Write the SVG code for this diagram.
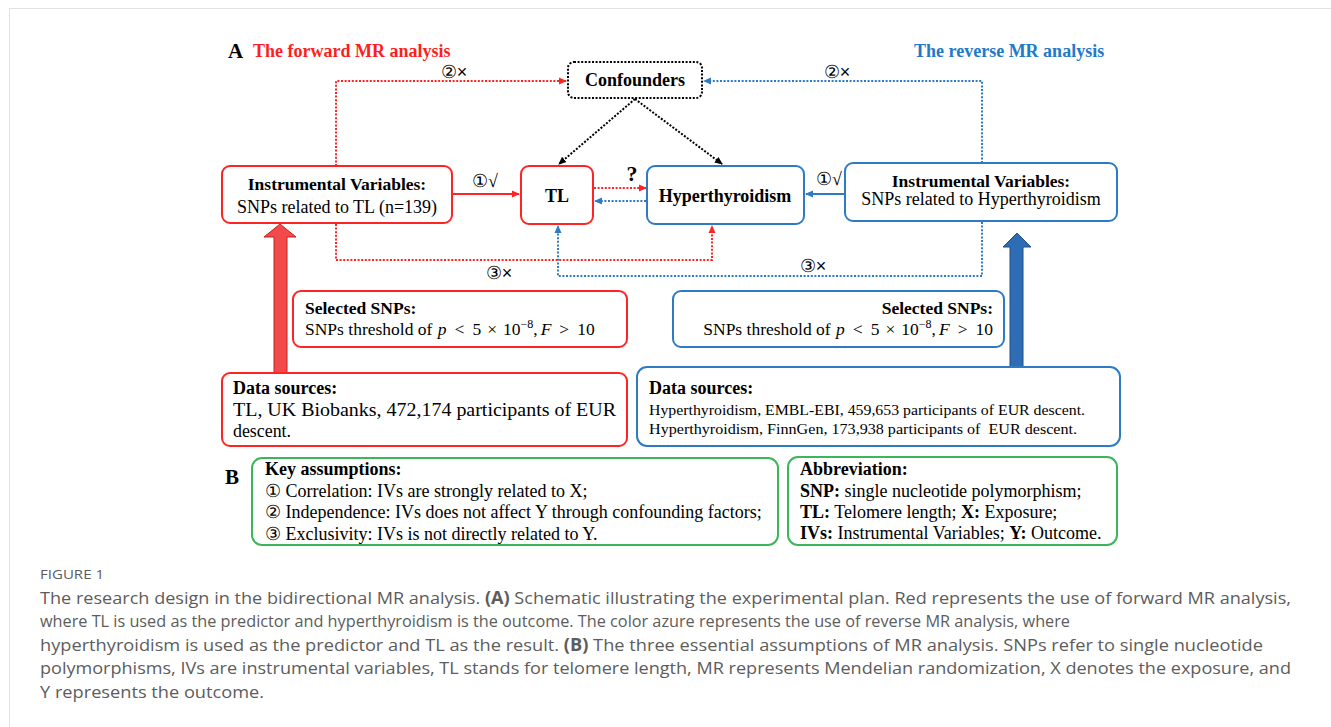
<svg xmlns="http://www.w3.org/2000/svg" width="1331" height="727" viewBox="0 0 1331 727">
<style>
.s{font-family:"Liberation Serif","Times New Roman",serif;fill:#000}
.b{font-weight:bold}
.ss{font-family:"Liberation Sans",Arial,sans-serif;fill:#000}
.rbox{fill:#fff;stroke:#FF2424;stroke-width:2}
.bbox{fill:#fff;stroke:#2E7BC4;stroke-width:2}
.gbox{fill:#fff;stroke:#3DB55C;stroke-width:2}
.rd{fill:none;stroke:#FF2424;stroke-width:2;stroke-dasharray:2 1.6}
.bd{fill:none;stroke:#2E7BC4;stroke-width:2;stroke-dasharray:2 1.6}
.kd{fill:none;stroke:#000;stroke-width:2;stroke-dasharray:2 1.6}
.rs{fill:none;stroke:#FF2424;stroke-width:2}
.bs{fill:none;stroke:#2E7BC4;stroke-width:2}
.cap{font-family:"Open Sans","Liberation Sans",sans-serif;fill:#5c5c5c;font-size:17px}
.i{font-style:italic}
</style>
<defs>
<marker id="ar" markerUnits="userSpaceOnUse" markerWidth="8" markerHeight="8" refX="7" refY="4" orient="auto"><path d="M0,0.5 L8,4 L0,7.5 z" fill="#FF2424"/></marker>
<marker id="ab" markerUnits="userSpaceOnUse" markerWidth="8" markerHeight="8" refX="7" refY="4" orient="auto"><path d="M0,0.5 L8,4 L0,7.5 z" fill="#2E7BC4"/></marker>
<marker id="ak" markerUnits="userSpaceOnUse" markerWidth="8" markerHeight="8" refX="7" refY="4" orient="auto"><path d="M0,0.5 L8,4 L0,7.5 z" fill="#000"/></marker>
</defs>
<rect x="0" y="0" width="1331" height="727" fill="#fff"/>
<rect x="9.5" y="8.5" width="1340" height="740" fill="none" stroke="#e2e2e2"/>

<g id="titles">
<text class="s b" x="228" y="58" font-size="21">A</text>
<text class="s b" x="253" y="57" font-size="18" style="fill:#FF1E1E">The forward MR analysis</text>
<text class="s b" x="914" y="57" font-size="18" style="fill:#2179C9">The reverse MR analysis</text>
</g>

<g id="connectors">
<path class="rd" d="M336,166 V81 H566" marker-end="url(#ar)"/>
<path class="bd" d="M982,163 V81 H704" marker-end="url(#ab)"/>
<path class="kd" d="M635,99 L559,164" marker-end="url(#ak)"/>
<path class="kd" d="M635,99 L722,164" marker-end="url(#ak)"/>
<path class="rs" d="M453,194 H519" marker-end="url(#ar)"/>
<path class="rd" d="M594,188 H646" marker-end="url(#ar)"/>
<path class="bd" d="M646,201 H595" marker-end="url(#ab)"/>
<path class="bs" d="M844,194 H806" marker-end="url(#ab)"/>
<path class="rd" d="M336,224 V260 H712 V226" marker-end="url(#ar)"/>
<path class="bd" d="M982,222 V276 H558 V226" marker-end="url(#ab)"/>
<polygon points="274,373 274,237 264,237 280,224 296,237 287,237 287,373" fill="#F24A4A" stroke="#C81E1E" stroke-width="1"/>
<polygon points="1010,367 1010,247 1003,247 1017,233 1031,247 1023,247 1023,367" fill="#2E6DB4" stroke="#1F4E89" stroke-width="1"/>
<text class="ss" x="454" y="78" font-size="18" text-anchor="middle">②×</text>
<text class="ss" x="837" y="78" font-size="18" text-anchor="middle">②×</text>
<text class="s" x="485" y="187" font-size="18" text-anchor="middle">①√</text>
<text class="s" x="829" y="185" font-size="18" text-anchor="middle">①√</text>
<text class="s b" x="632" y="181" font-size="22" text-anchor="middle">?</text>
<text class="ss" x="499" y="279" font-size="18" text-anchor="middle">③×</text>
<text class="ss" x="813" y="272" font-size="18" text-anchor="middle">③×</text>
</g>

<g id="confounders">
<rect x="568" y="62" width="134" height="36" rx="6" fill="#fff" class="kd"/>
<text class="s b" x="635" y="86" font-size="18" text-anchor="middle">Confounders</text>
</g>

<g id="iv-left">
<rect class="rbox" x="222" y="166" width="230" height="57" rx="8"/>
<text class="s b" x="337" y="190" font-size="17.5" text-anchor="middle">Instrumental Variables:</text>
<text class="s" x="337" y="213" font-size="18" text-anchor="middle">SNPs related to TL (n=139)</text>
</g>

<g id="tl">
<rect class="rbox" x="521" y="166" width="72" height="58" rx="8"/>
<text class="s b" x="557" y="202" font-size="18" text-anchor="middle">TL</text>
</g>

<g id="hyper">
<rect class="bbox" x="647" y="166" width="157" height="58" rx="8"/>
<text class="s b" x="725" y="202" font-size="18" text-anchor="middle">Hyperthyroidism</text>
</g>

<g id="iv-right">
<rect class="bbox" x="845" y="163" width="272" height="58" rx="8"/>
<text class="s b" x="981" y="187" font-size="17.5" text-anchor="middle">Instrumental Variables:</text>
<text class="s" x="981" y="205" font-size="18" text-anchor="middle">SNPs related to Hyperthyroidism</text>
</g>

<g id="sel-left">
<rect class="rbox" x="293" y="291" width="334" height="56" rx="8"/>
<text class="s b" x="305" y="314" font-size="17.5">Selected SNPs:</text>
<text class="s" x="305" y="335" font-size="17.5">SNPs threshold of <tspan class="i" dx="1">p</tspan><tspan dx="8">&lt;</tspan><tspan dx="8">5</tspan><tspan dx="6">×</tspan><tspan dx="6">10</tspan><tspan font-size="12" dy="-7">−8</tspan><tspan dy="7">,</tspan><tspan class="i" dx="3">F</tspan><tspan dx="8">&gt;</tspan><tspan dx="8">10</tspan></text>
</g>

<g id="sel-right">
<rect class="bbox" x="673" y="291" width="331" height="56" rx="8"/>
<text class="s b" x="993" y="314" font-size="17.5" text-anchor="end">Selected SNPs:</text>
<text class="s" x="993" y="335" font-size="17.5" text-anchor="end">SNPs threshold of <tspan class="i" dx="1">p</tspan><tspan dx="8">&lt;</tspan><tspan dx="8">5</tspan><tspan dx="6">×</tspan><tspan dx="6">10</tspan><tspan font-size="12" dy="-7">−8</tspan><tspan dy="7">,</tspan><tspan class="i" dx="3">F</tspan><tspan dx="8">&gt;</tspan><tspan dx="8">10</tspan></text>
</g>

<g id="data-left">
<rect class="rbox" x="222" y="373" width="405" height="73" rx="8"/>
<text class="s b" x="233" y="394" font-size="18">Data sources:</text>
<text class="s" x="233" y="416" font-size="18" textLength="383" lengthAdjust="spacingAndGlyphs">TL, UK Biobanks, 472,174 participants of EUR</text>
<text class="s" x="233" y="437" font-size="18" textLength="58" lengthAdjust="spacingAndGlyphs">descent.</text>
</g>

<g id="data-right">
<rect class="bbox" x="637" y="367" width="483" height="79" rx="10"/>
<text class="s b" x="649" y="394" font-size="18">Data sources:</text>
<text class="s" x="649" y="415" font-size="15" textLength="436" lengthAdjust="spacingAndGlyphs">Hyperthyroidism, EMBL-EBI, 459,653 participants of EUR descent.</text>
<text class="s" x="649" y="434" font-size="15" textLength="428" lengthAdjust="spacingAndGlyphs" xml:space="preserve">Hyperthyroidism, FinnGen, 173,938 participants of  EUR descent.</text>
</g>

<g id="key-assumptions">
<text class="s b" x="225" y="484" font-size="21">B</text>
<rect class="gbox" x="252" y="458" width="526" height="87" rx="10"/>
<text class="s b" x="265" y="475" font-size="18">Key assumptions:</text>
<text class="s" x="265" y="497" font-size="18">① Correlation: IVs are strongly related to X;</text>
<text class="s" x="265" y="518" font-size="18">② Independence: IVs does not affect Y through confounding factors;</text>
<text class="s" x="265" y="540" font-size="18">③ Exclusivity: IVs is not directly related to Y.</text>
</g>

<g id="abbreviation">
<rect class="gbox" x="788" y="457" width="329" height="88" rx="10"/>
<text class="s b" x="800" y="475" font-size="18">Abbreviation:</text>
<text class="s" x="800" y="497" font-size="18"><tspan font-weight="bold">SNP:</tspan> single nucleotide polymorphism;</text>
<text class="s" x="800" y="518" font-size="18"><tspan font-weight="bold">TL:</tspan> Telomere length; <tspan font-weight="bold">X:</tspan> Exposure;</text>
<text class="s" x="800" y="539" font-size="18"><tspan font-weight="bold">IVs:</tspan> Instrumental Variables; <tspan font-weight="bold">Y:</tspan> Outcome.</text>
</g>

<g id="caption">
<text class="cap" x="40" y="579" textLength="64" lengthAdjust="spacingAndGlyphs" style="font-size:13px">FIGURE 1</text>
<text class="cap" x="40" y="604" textLength="1251" lengthAdjust="spacingAndGlyphs">The research design in the bidirectional MR analysis. <tspan font-weight="bold">(A)</tspan> Schematic illustrating the experimental plan. Red represents the use of forward MR analysis,</text>
<text class="cap" x="40" y="627" textLength="1030" lengthAdjust="spacingAndGlyphs">where TL is used as the predictor and hyperthyroidism is the outcome. The color azure represents the use of reverse MR analysis, where</text>
<text class="cap" x="40" y="651" textLength="1223" lengthAdjust="spacingAndGlyphs">hyperthyroidism is used as the predictor and TL as the result. <tspan font-weight="bold">(B)</tspan> The three essential assumptions of MR analysis. SNPs refer to single nucleotide</text>
<text class="cap" x="40" y="674" textLength="1251" lengthAdjust="spacingAndGlyphs">polymorphisms, IVs are instrumental variables, TL stands for telomere length, MR represents Mendelian randomization, X denotes the exposure, and</text>
<text class="cap" x="40" y="698" textLength="224" lengthAdjust="spacingAndGlyphs">Y represents the outcome.</text>
</g>
</svg>
